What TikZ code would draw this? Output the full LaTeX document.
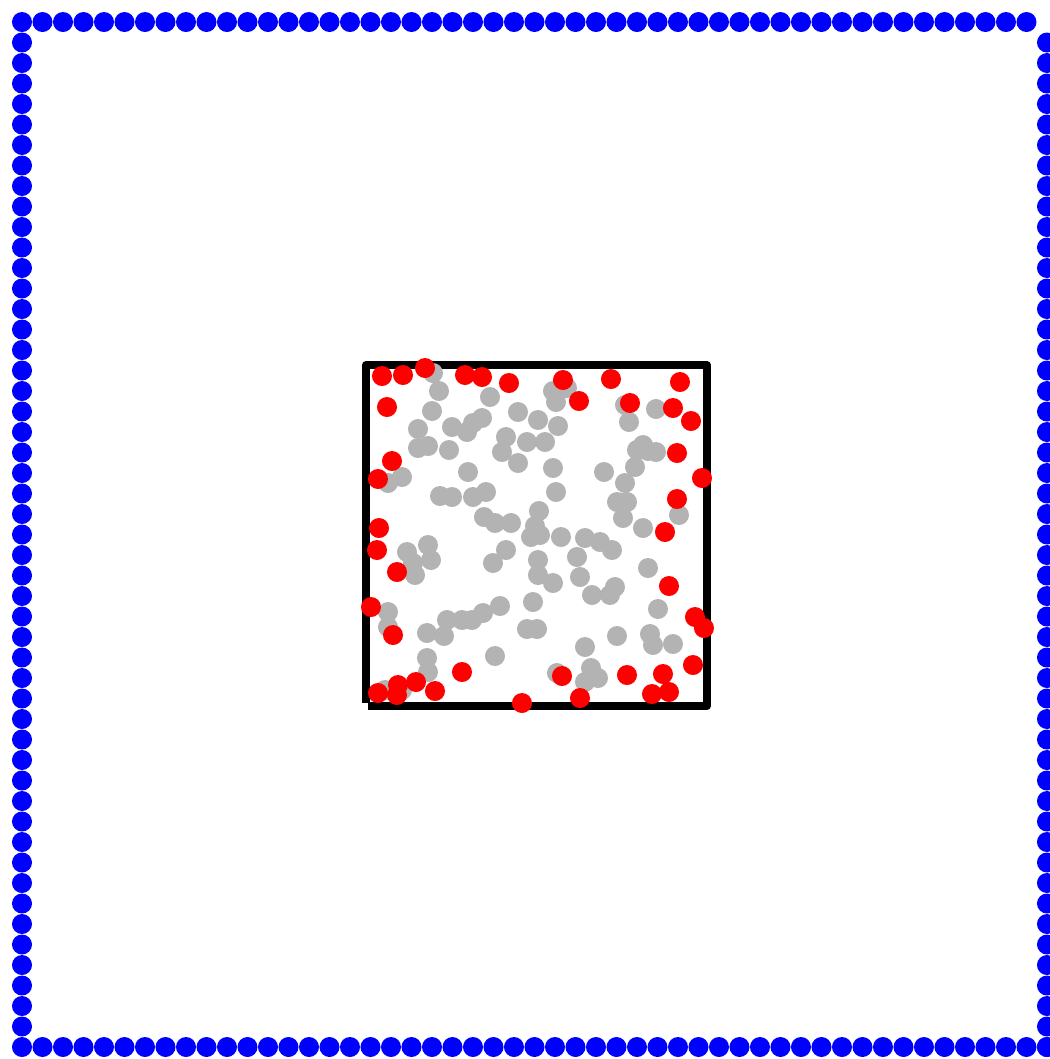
\documentclass[tikz,border=0pt]{standalone}
\usepackage{tikz}
\definecolor{dotgray}{RGB}{179,179,179}

\begin{document}
\begin{tikzpicture}[
    x=0.01cm, y=-0.01cm,
    wall/.style={fill=blue},
    inner/.style={fill=dotgray},
    hit/.style={fill=red},
    box/.style={line width=0.08cm, line join=round}
]

\useasboundingbox (0,0) rectangle (1050,1059);
\clip (0,0) rectangle (1050,1059);

% okraj
\foreach \i in {0,...,49} \fill[wall] (22+20.5*\i,22) circle (0.1cm);
\foreach \j in {1,...,50} \fill[wall] (1047,22+20.5*\j) circle (0.1cm);
\foreach \i in {0,...,50} \fill[wall] (22+20.5*\i,1047) circle (0.1cm);
\foreach \j in {1,...,49} \fill[wall] (22,22+20.5*\j) circle (0.1cm);

% stvorec
\coordinate (SW) at (366,703);
\coordinate (SB) at (368,706);
\coordinate (SE) at (707,706);
\coordinate (NE) at (707,365);
\coordinate (NW) at (366,365);
\draw[box] (SB)--(SE)--(NE)--(NW)--(SW);

% vnutorne body
\foreach \x/\y in {433/373,439/391,490/397,432/411,418/429,452/427,467/432,473/423,
    482/418,518/412,506/437,502/452,527/442,418/448,428/446,449/450,518/463,468/472,
    402/477,388/483,440/496,452/497,473/497,486/492,484/517,495/523,511/523,
    553/391,567/388,556/402,625/405,656/409,629/422,538/420,558/426,545/442,643/445,
    637/450,648/451,656/452,635/467,604/472,553/468,625/483,556/492,617/502,627/502,
    623/518,539/511,679/515,643/528,535/526,531/537,
    407/552,413/563,415/575,428/545,431/560,493/563,506/550,388/612,388/627,427/633,
    444/636,447/620,462/620,472/620,483/613,500/606,533/602,527/629,495/656,427/658,
    428/672,385/690,402/690,
    540/535,561/537,585/538,600/542,612/550,577/557,538/560,538/575,553/583,580/577,
    592/595,615/587,610/595,648/568,658/609,537/629,617/636,650/634,653/645,673/644,
    585/647,591/668,598/678,585/682,557/673}
    \fill[inner] (\x,\y) circle (0.1cm);

% body pri okraji
\foreach \x/\y in {382/376,403/375,425/368,465/375,482/377,509/383,387/407,392/461,
    378/479,379/528,563/380,611/379,680/382,579/401,630/403,673/408,691/421,677/453,
    702/478,677/499,665/532,377/550,397/572,371/607,393/635,462/672,416/682,435/691,
    398/685,378/693,397/695,522/703,669/586,695/617,704/628,693/665,562/676,627/675,
    663/674,669/692,652/694,580/698}
    \fill[hit] (\x,\y) circle (0.1cm);

\end{tikzpicture}
\end{document}
